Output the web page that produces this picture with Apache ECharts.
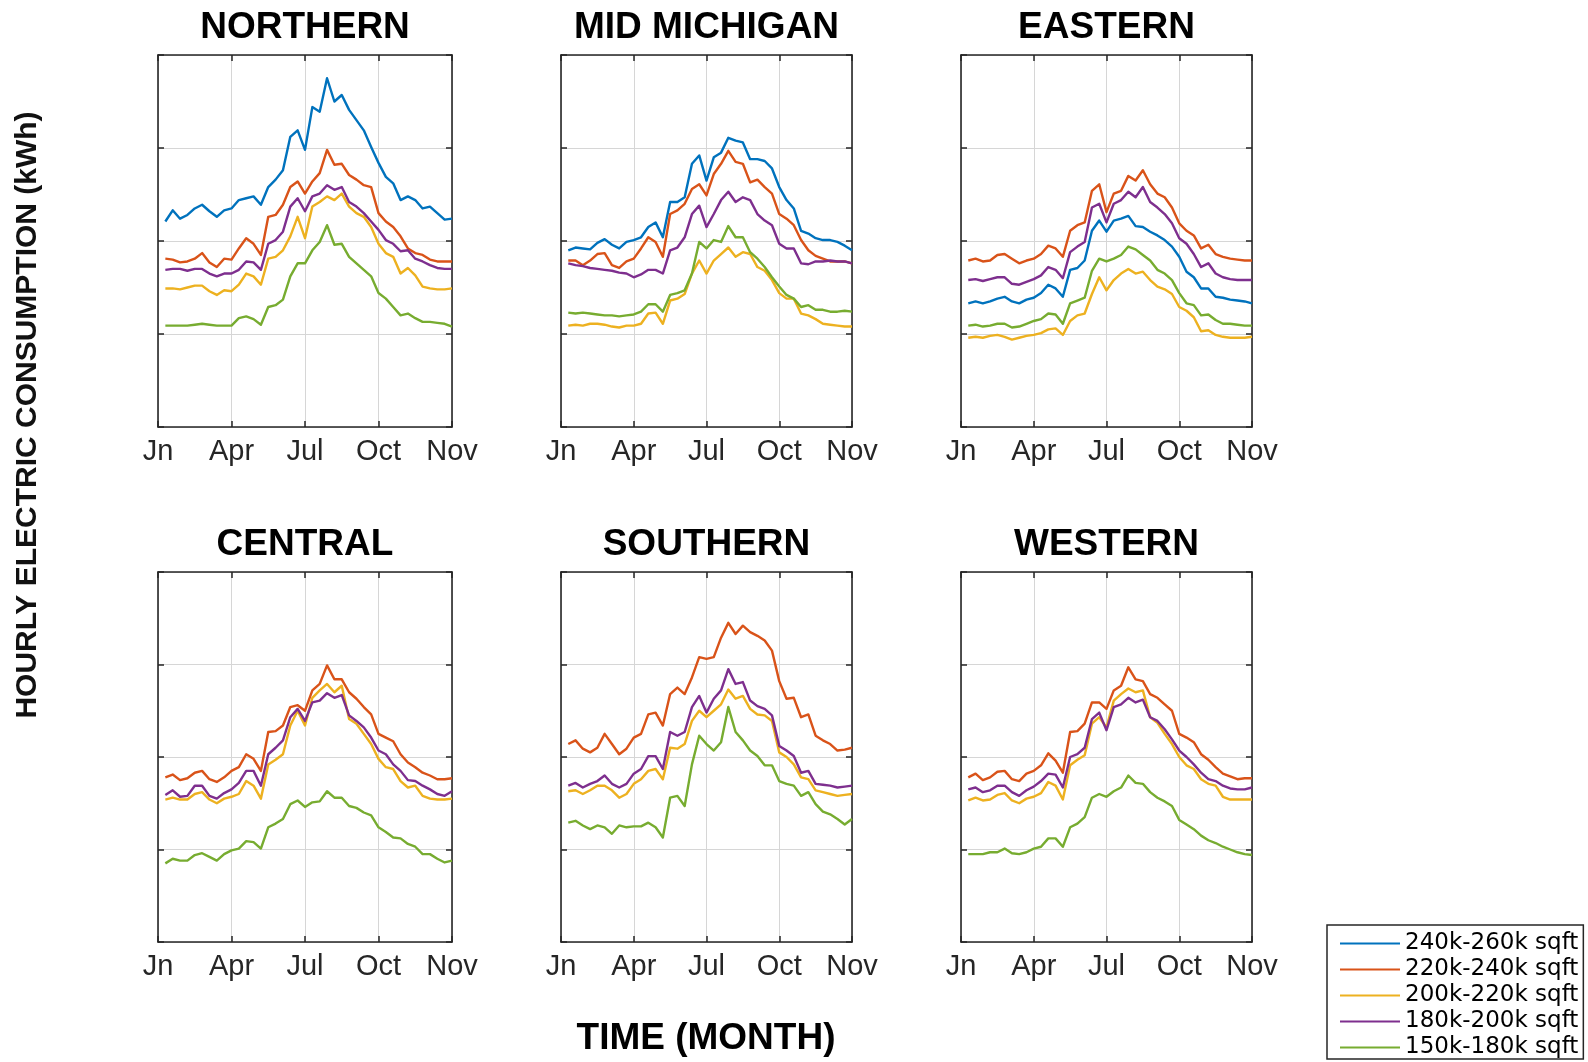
<!DOCTYPE html>
<html><head><meta charset="utf-8">
<script src="https://cdn.jsdelivr.net/npm/echarts@6/dist/echarts.min.js"></script>
<style>html,body{margin:0;padding:0;background:#fff}#c{width:1588px;height:1062px}</style>
</head><body><div id="c"></div>
<script>
const monthLabels = ['Jn','Apr','Jul','Oct','Nov'];
const seriesNames = ['240k-260k sqft','220k-240k sqft','200k-220k sqft','180k-200k sqft','150k-180k sqft'];
const xs = [0.1,0.2,0.3,0.4,0.5,0.6,0.7,0.8,0.9,1.0,1.1,1.2,1.3,1.4,1.5,1.6,1.7,1.8,1.9,2.0,2.1,2.2,2.3,2.4,2.5,2.6,2.7,2.8,2.9,3.0,3.1,3.2,3.3,3.4,3.5,3.6,3.7,3.8,3.9,4.0];

const northernBlue = [2.21,2.33,2.24,2.28,2.35,2.39,2.32,2.26,2.33,2.35,2.44,2.46,2.48,2.39,2.58,2.66,2.76,3.12,3.19,2.98,3.44,3.39,3.75,3.50,3.57,3.41,3.30,3.19,3.01,2.84,2.69,2.62,2.44,2.48,2.44,2.35,2.37,2.30,2.23,2.24];
const northernOrange = [1.81,1.80,1.77,1.78,1.81,1.87,1.77,1.72,1.81,1.80,1.92,2.03,1.97,1.85,2.26,2.28,2.39,2.58,2.64,2.51,2.64,2.73,2.98,2.82,2.83,2.71,2.66,2.60,2.58,2.30,2.21,2.15,2.05,1.92,1.87,1.85,1.80,1.78,1.78,1.78];
const northernYellow = [1.49,1.49,1.48,1.50,1.52,1.52,1.46,1.42,1.47,1.46,1.53,1.65,1.62,1.53,1.81,1.83,1.90,2.05,2.26,2.03,2.37,2.42,2.48,2.44,2.51,2.37,2.30,2.26,2.15,1.97,1.87,1.83,1.65,1.71,1.63,1.51,1.49,1.48,1.48,1.49];
const northernPurple = [1.69,1.70,1.70,1.68,1.70,1.70,1.65,1.62,1.65,1.65,1.69,1.78,1.77,1.69,1.97,2.01,2.10,2.37,2.46,2.32,2.48,2.51,2.60,2.55,2.58,2.42,2.37,2.30,2.21,2.12,2.01,1.97,1.89,1.90,1.81,1.78,1.74,1.71,1.70,1.70];
const northernGreen = [1.09,1.09,1.09,1.09,1.10,1.11,1.10,1.09,1.09,1.09,1.17,1.19,1.16,1.10,1.29,1.31,1.37,1.62,1.76,1.76,1.90,1.99,2.17,1.96,1.97,1.83,1.76,1.69,1.62,1.44,1.38,1.29,1.20,1.22,1.17,1.13,1.13,1.12,1.11,1.08];

const midBlue = [1.90,1.93,1.92,1.91,1.98,2.02,1.96,1.92,1.99,2.01,2.04,2.15,2.20,2.04,2.42,2.42,2.47,2.83,2.92,2.65,2.90,2.95,3.11,3.08,3.06,2.88,2.88,2.86,2.78,2.58,2.44,2.35,2.11,2.08,2.03,2.01,2.01,1.99,1.95,1.90];
const midOrange = [1.79,1.79,1.74,1.79,1.86,1.87,1.74,1.71,1.78,1.81,1.92,2.04,1.99,1.83,2.29,2.33,2.40,2.56,2.61,2.49,2.72,2.83,2.97,2.85,2.83,2.63,2.66,2.58,2.51,2.29,2.24,2.17,2.01,1.90,1.84,1.81,1.78,1.78,1.78,1.76];
const midYellow = [1.09,1.10,1.09,1.11,1.11,1.10,1.08,1.07,1.09,1.09,1.11,1.22,1.23,1.11,1.36,1.38,1.43,1.65,1.79,1.65,1.79,1.86,1.93,1.83,1.88,1.86,1.72,1.68,1.58,1.44,1.38,1.38,1.22,1.20,1.16,1.11,1.10,1.09,1.08,1.08];
const midPurple = [1.76,1.74,1.73,1.71,1.70,1.69,1.68,1.66,1.65,1.61,1.64,1.69,1.69,1.65,1.90,1.93,2.04,2.29,2.38,2.15,2.29,2.44,2.53,2.42,2.47,2.44,2.29,2.22,2.17,1.97,1.92,1.92,1.76,1.75,1.78,1.78,1.79,1.78,1.78,1.76];
const midGreen = [1.23,1.22,1.23,1.22,1.21,1.20,1.20,1.19,1.20,1.21,1.24,1.32,1.32,1.24,1.42,1.44,1.47,1.65,1.99,1.92,2.01,1.99,2.16,2.04,2.04,1.88,1.81,1.72,1.61,1.51,1.42,1.38,1.29,1.31,1.26,1.26,1.24,1.24,1.25,1.24];

const easternBlue = [1.33,1.35,1.33,1.35,1.38,1.40,1.35,1.33,1.37,1.39,1.44,1.53,1.49,1.40,1.69,1.71,1.79,2.11,2.22,2.10,2.22,2.24,2.27,2.16,2.15,2.10,2.06,2.01,1.94,1.83,1.67,1.61,1.49,1.49,1.40,1.39,1.37,1.36,1.35,1.33];
const easternOrange = [1.79,1.81,1.78,1.79,1.85,1.86,1.81,1.76,1.79,1.81,1.86,1.95,1.92,1.83,2.11,2.17,2.20,2.54,2.61,2.31,2.51,2.54,2.70,2.65,2.76,2.61,2.51,2.47,2.36,2.19,2.11,2.06,1.92,1.96,1.86,1.83,1.81,1.80,1.79,1.79];
const easternYellow = [0.96,0.97,0.96,0.98,0.99,0.97,0.94,0.96,0.98,0.99,1.01,1.05,1.06,0.99,1.14,1.20,1.22,1.43,1.61,1.47,1.58,1.65,1.70,1.65,1.67,1.58,1.51,1.48,1.43,1.29,1.25,1.18,1.03,1.04,0.99,0.97,0.96,0.96,0.96,0.97];
const easternPurple = [1.58,1.59,1.57,1.59,1.61,1.61,1.54,1.53,1.56,1.59,1.63,1.72,1.69,1.60,1.88,1.94,1.99,2.36,2.40,2.20,2.40,2.44,2.53,2.47,2.58,2.42,2.36,2.29,2.19,2.03,1.97,1.86,1.72,1.76,1.65,1.61,1.59,1.58,1.58,1.58];
const easternGreen = [1.09,1.10,1.08,1.09,1.11,1.11,1.07,1.08,1.11,1.14,1.16,1.22,1.21,1.11,1.33,1.36,1.39,1.68,1.81,1.78,1.81,1.85,1.94,1.91,1.85,1.79,1.69,1.65,1.58,1.44,1.33,1.31,1.20,1.21,1.15,1.11,1.11,1.10,1.09,1.09];

const centralOrange = [1.78,1.81,1.75,1.77,1.83,1.85,1.76,1.73,1.78,1.85,1.89,2.03,1.98,1.85,2.27,2.28,2.34,2.54,2.56,2.50,2.72,2.79,2.99,2.84,2.84,2.70,2.63,2.54,2.46,2.25,2.21,2.17,2.03,1.94,1.89,1.83,1.80,1.76,1.76,1.77];
const centralYellow = [1.54,1.56,1.54,1.54,1.60,1.62,1.54,1.50,1.55,1.57,1.60,1.74,1.69,1.55,1.92,1.97,2.03,2.34,2.50,2.34,2.64,2.72,2.79,2.70,2.77,2.41,2.36,2.25,2.14,1.98,1.89,1.87,1.74,1.67,1.69,1.58,1.55,1.54,1.54,1.55];
const centralPurple = [1.59,1.64,1.57,1.58,1.69,1.69,1.58,1.55,1.61,1.65,1.72,1.85,1.85,1.69,2.03,2.10,2.18,2.43,2.52,2.39,2.59,2.61,2.69,2.64,2.67,2.45,2.39,2.32,2.21,2.07,2.03,1.92,1.85,1.75,1.74,1.69,1.65,1.60,1.58,1.63];
const centralGreen = [0.85,0.90,0.88,0.88,0.94,0.96,0.92,0.88,0.95,0.99,1.01,1.09,1.08,1.01,1.24,1.28,1.33,1.49,1.53,1.46,1.51,1.52,1.63,1.56,1.56,1.47,1.45,1.40,1.37,1.24,1.19,1.13,1.12,1.06,1.03,0.95,0.95,0.90,0.86,0.88];

const southernOrange = [2.14,2.18,2.09,2.05,2.10,2.25,2.14,2.03,2.09,2.21,2.25,2.46,2.48,2.34,2.68,2.75,2.68,2.86,3.08,3.06,3.08,3.29,3.45,3.33,3.42,3.35,3.31,3.26,3.15,2.82,2.63,2.64,2.43,2.46,2.23,2.18,2.14,2.07,2.08,2.10];
const southernYellow = [1.63,1.64,1.60,1.64,1.69,1.69,1.64,1.56,1.60,1.71,1.76,1.85,1.87,1.76,2.10,2.09,2.14,2.39,2.50,2.43,2.50,2.57,2.73,2.63,2.66,2.52,2.46,2.45,2.39,2.05,2.00,1.92,1.78,1.76,1.64,1.62,1.60,1.58,1.59,1.60];
const southernPurple = [1.69,1.72,1.67,1.71,1.74,1.80,1.71,1.67,1.71,1.82,1.87,2.01,2.01,1.87,2.27,2.23,2.27,2.54,2.66,2.48,2.63,2.72,2.95,2.79,2.81,2.61,2.55,2.52,2.45,2.12,2.07,2.01,1.83,1.85,1.71,1.70,1.69,1.67,1.68,1.69];
const southernGreen = [1.29,1.31,1.26,1.22,1.26,1.24,1.17,1.26,1.24,1.25,1.25,1.29,1.24,1.13,1.56,1.58,1.47,1.92,2.23,2.14,2.07,2.16,2.54,2.27,2.18,2.07,2.01,1.91,1.91,1.74,1.71,1.69,1.58,1.62,1.49,1.41,1.38,1.33,1.27,1.33];

const westernOrange = [1.78,1.82,1.75,1.78,1.84,1.85,1.76,1.74,1.82,1.85,1.91,2.04,1.96,1.83,2.27,2.28,2.36,2.59,2.59,2.52,2.72,2.77,2.97,2.84,2.82,2.68,2.64,2.57,2.50,2.25,2.21,2.16,2.03,1.97,1.89,1.82,1.79,1.76,1.77,1.77];
const westernYellow = [1.53,1.56,1.53,1.54,1.59,1.61,1.53,1.50,1.55,1.57,1.61,1.73,1.69,1.54,1.91,1.97,2.02,2.36,2.43,2.32,2.61,2.68,2.74,2.70,2.72,2.43,2.37,2.25,2.14,2.00,1.91,1.87,1.76,1.71,1.69,1.57,1.54,1.54,1.54,1.54];
const westernPurple = [1.65,1.67,1.62,1.64,1.69,1.69,1.62,1.58,1.64,1.68,1.74,1.82,1.81,1.67,2.00,2.03,2.10,2.41,2.48,2.29,2.54,2.57,2.64,2.59,2.62,2.43,2.39,2.30,2.19,2.07,2.00,1.92,1.83,1.76,1.74,1.69,1.66,1.65,1.65,1.67];
const westernGreen = [0.95,0.95,0.95,0.97,0.97,1.01,0.96,0.95,0.97,1.01,1.03,1.12,1.12,1.03,1.24,1.28,1.35,1.56,1.60,1.57,1.63,1.67,1.80,1.72,1.71,1.62,1.56,1.52,1.47,1.32,1.27,1.22,1.15,1.10,1.07,1.03,1.00,0.97,0.95,0.94];

const colors = ['#0072BD','#D95319','#EDB120','#7E2F8E','#77AC30'];
const panels = [
  {title:'NORTHERN', data:[northernBlue, northernOrange, northernYellow, northernPurple, northernGreen]},
  {title:'MID MICHIGAN', data:[midBlue, midOrange, midYellow, midPurple, midGreen]},
  {title:'EASTERN', data:[easternBlue, easternOrange, easternYellow, easternPurple, easternGreen]},
  {title:'CENTRAL', data:[null, centralOrange, centralYellow, centralPurple, centralGreen]},
  {title:'SOUTHERN', data:[null, southernOrange, southernYellow, southernPurple, southernGreen]},
  {title:'WESTERN', data:[null, westernOrange, westernYellow, westernPurple, westernGreen]}
];
const layout = [
  {left:158, top:55, width:294, height:372},
  {left:561, top:55, width:291, height:372},
  {left:961, top:55, width:291, height:372},
  {left:158, top:572, width:294, height:370},
  {left:561, top:572, width:291, height:370},
  {left:961, top:572, width:291, height:370}
];

const FONT = 'Liberation Sans, Arial, Helvetica, sans-serif';
const axisColor = '#262626';
const grids = [], xAxes = [], yAxes = [], series = [], graphics = [];

panels.forEach((p, i) => {
  const L = layout[i];
  grids.push({left:L.left, top:L.top, width:L.width, height:L.height, containLabel:false});
  const lineStyle = {color:axisColor, width:1.6};
  const tick = {show:true, inside:true, length:6, lineStyle:{color:axisColor, width:1.5}};
  xAxes.push({
    gridIndex:i, type:'value', min:0, max:4, interval:1, position:'bottom',
    axisLine:{show:true, onZero:false, lineStyle},
    axisTick:tick,
    axisLabel:{show:true, showMinLabel:true, showMaxLabel:true, formatter:v => monthLabels[Math.round(v)] || '',
      fontSize:29, color:axisColor, margin:10, fontFamily:FONT},
    splitLine:{show:true, lineStyle:{color:'#d6d6d6', width:1}}
  });
  xAxes.push({
    gridIndex:i, type:'value', min:0, max:4, interval:1, position:'top',
    axisLine:{show:true, onZero:false, lineStyle},
    axisTick:tick, axisLabel:{show:false}, splitLine:{show:false}
  });
  yAxes.push({
    gridIndex:i, type:'value', min:0, max:4, interval:1, position:'left',
    axisLine:{show:true, onZero:false, lineStyle},
    axisTick:tick, axisLabel:{show:false},
    splitLine:{show:true, lineStyle:{color:'#d6d6d6', width:1}}
  });
  yAxes.push({
    gridIndex:i, type:'value', min:0, max:4, interval:1, position:'right',
    axisLine:{show:true, onZero:false, lineStyle},
    axisTick:tick, axisLabel:{show:false}, splitLine:{show:false}
  });
  p.data.forEach((vals, k) => {
    if (!vals) return;
    series.push({
      type:'line', name:seriesNames[k], xAxisIndex:2*i, yAxisIndex:2*i,
      data: xs.map((x, j) => [x, vals[j]]),
      symbol:'none', showSymbol:false, smooth:false,
      lineStyle:{width:2.4, color:colors[k], join:'round'}, itemStyle:{color:colors[k]},
      color:colors[k], animation:false, z:2+k
    });
  });
  graphics.push({
    type:'text', x:L.left + L.width/2, y:L.top - 27,
    style:{text:p.title, fontSize:37, fontWeight:'bold', fontFamily:FONT, fill:'#000',
      align:'center', verticalAlign:'middle', textAlign:'center', textVerticalAlign:'middle'}
  });
});

graphics.push({
  type:'text', x:706, y:1039,
  style:{text:'TIME (MONTH)', fontSize:37, fontWeight:'bold', fontFamily:FONT, fill:'#000',
    align:'center', verticalAlign:'middle', textAlign:'center', textVerticalAlign:'middle'}
});
graphics.push({
  type:'text', x:28, y:415, rotation:Math.PI/2,
  style:{text:'HOURLY ELECTRIC CONSUMPTION (kWh)', fontSize:30, fontWeight:'bold', fontFamily:FONT, fill:'#111',
    align:'center', verticalAlign:'middle', textAlign:'center', textVerticalAlign:'middle'}
});

const chart = echarts.init(document.getElementById('c'), null, {renderer:'canvas'});
chart.setOption({
  animation:false,
  backgroundColor:'#fff',
  grid:grids, xAxis:xAxes, yAxis:yAxes, series,
  legend:{
    data:seriesNames, orient:'vertical', left:1327, top:925,
    backgroundColor:'#fff', borderColor:axisColor, borderWidth:1.5, borderRadius:0,
    padding:[7,5,0,13], itemGap:3, itemWidth:60, itemHeight:2, icon:'rect', selectedMode:false,
    textStyle:{fontFamily:'DejaVu Sans', fontSize:23, color:'#000', lineHeight:22}
  },
  graphic:graphics
});
</script></body></html>
